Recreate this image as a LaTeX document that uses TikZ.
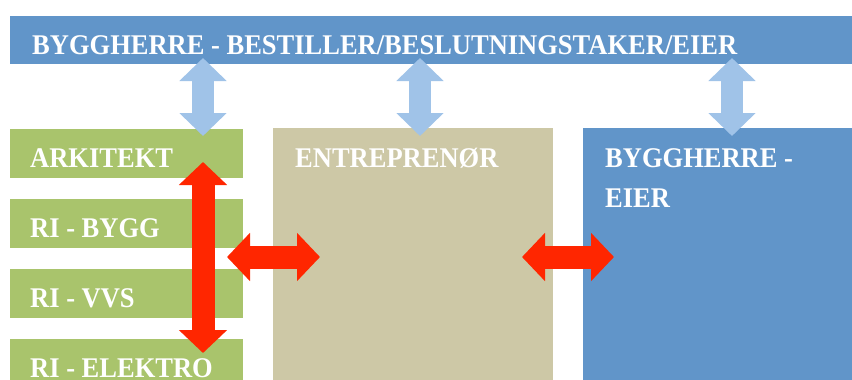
\documentclass[tikz,border=0pt]{standalone}
\usepackage{fontspec}
\setmainfont{Liberation Serif}
\newfontfamily\boxfont{Liberation Serif}[FakeStretch=0.93]
\usetikzlibrary{arrows.meta}

\definecolor{barblue}{HTML}{6195C9}
\definecolor{rolegreen}{HTML}{A9C46C}
\definecolor{sandtan}{HTML}{CDC8A6}
\definecolor{linkblue}{HTML}{A0C3E8}
\definecolor{linkred}{HTML}{FF2600}

\tikzset{
  box/.style={draw=none, inner sep=0pt, anchor=north west},
  rolebox/.style={box, fill=rolegreen, minimum width=233pt, minimum height=49pt},
  boxtext/.style={text=white, font=\boxfont\fontsize{28.5}{40}\selectfont\bfseries, anchor=base west, inner sep=0pt},
  dblblue/.style={line width=22pt, draw=linkblue, {Triangle[width=46pt,length=23pt]}-{Triangle[width=46pt,length=23pt]}},
  dblred/.style={line width=23pt, draw=linkred, {Triangle[width=47pt,length=23pt]}-{Triangle[width=47pt,length=23pt]}}
}

\begin{document}
\begin{tikzpicture}[x=1pt, y=-1pt]
  \useasboundingbox (0,0) rectangle (852,380);

  % top bar
  \node[box, fill=barblue, minimum width=842pt, minimum height=48pt] (owner) at (10,16) {};
  \node[boxtext] (ownertxt) at (32,54) {BYGGHERRE - BESTILLER/BESLUTNINGSTAKER/EIER};

  % consultants
  \node[rolebox] (ark) at (10,129) {};
  \node[rolebox] (bygg) at (10,199) {};
  \node[rolebox] (vvs) at (10,269) {};
  \node[rolebox] (elektro) at (10,339) {};
  \node[boxtext] (arktxt) at (30,167) {ARKITEKT};
  \node[boxtext] (byggtxt) at (30,237) {RI - BYGG};
  \node[boxtext] (vvstxt) at (30,307) {RI - VVS};
  \node[boxtext] (elektrotxt) at (30,377) {RI - ELEKTRO};

  % contractor and owner
  \node[box, fill=sandtan, minimum width=280pt, minimum height=260pt] (entr) at (273,128) {};
  \node[boxtext] (entrtxt) at (295,167) {ENTREPRENØR};
  \node[box, fill=barblue, minimum width=269pt, minimum height=260pt] (eier) at (583,128) {};
  \node[boxtext] (eiertxt1) at (605,167) {BYGGHERRE -};
  \node[boxtext] (eiertxt2) at (605,207) {EIER};

  % arrow ends
  \coordinate (b1top) at (203,58);  \coordinate (b1bot) at (203,136);
  \coordinate (b2top) at (420,58);  \coordinate (b2bot) at (420,136);
  \coordinate (b3top) at (732,58);  \coordinate (b3bot) at (732,136);
  \coordinate (rtop) at (203,162);  \coordinate (rbot) at (203,353);
  \coordinate (r1l) at (227,257);   \coordinate (r1r) at (320,257);
  \coordinate (r2l) at (522,257);   \coordinate (r2r) at (614,257);

  % arrows
  \draw[dblblue] (b1top) -- (b1bot);
  \draw[dblblue] (b2top) -- (b2bot);
  \draw[dblblue] (b3top) -- (b3bot);
  \draw[dblred] (rtop) -- (rbot);
  \draw[dblred] (r1l) -- (r1r);
  \draw[dblred] (r2l) -- (r2r);
\end{tikzpicture}
\end{document}
